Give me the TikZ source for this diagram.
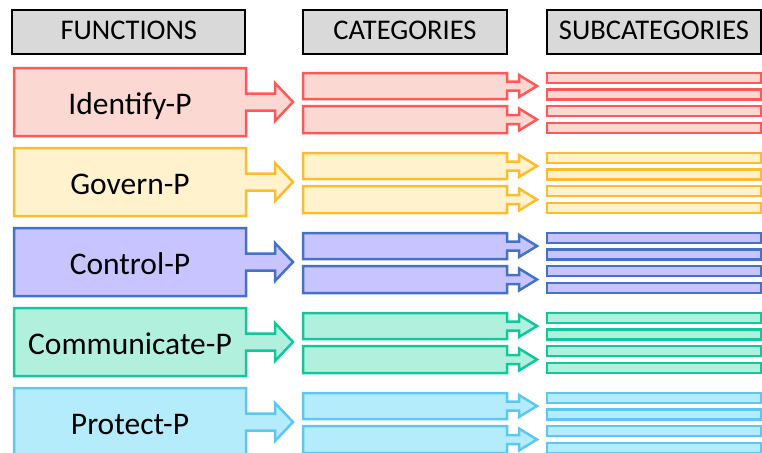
\documentclass[tikz,border=0pt]{standalone}
\usepackage{fontspec}
\setmainfont{Carlito}
\definecolor{hdrfill}{RGB}{217,217,217}
\definecolor{rS}{RGB}{255,88,88}\definecolor{rF}{RGB}{252,216,211}
\definecolor{yS}{RGB}{251,188,45}\definecolor{yF}{RGB}{255,242,204}
\definecolor{bS}{RGB}{68,114,196}\definecolor{bF}{RGB}{200,196,255}
\definecolor{gS}{RGB}{16,200,155}\definecolor{gF}{RGB}{178,240,222}
\definecolor{cS}{RGB}{92,200,240}\definecolor{cF}{RGB}{180,236,251}
% #1 style, #2 left, #3 top, #4 right, #5 bottom, #6 shaft end, #7 shaft half, #8 head half, #9 tip
\newcommand\ArrBox[9]{\path[#1] (#2,#3) -- (#4,#3) -- (#4,{(#3+#5)/2-#7}) -- (#6,{(#3+#5)/2-#7}) -- (#6,{(#3+#5)/2-#8}) -- (#9,{(#3+#5)/2}) -- (#6,{(#3+#5)/2+#8}) -- (#6,{(#3+#5)/2+#7}) -- (#4,{(#3+#5)/2+#7}) -- (#4,#5) -- (#2,#5) -- cycle;}
\tikzset{
  hdr/.style={draw=black, line width=2pt, fill=hdrfill, minimum height=44pt, inner sep=0pt,
    text height=18.4pt, text depth=3pt, font=\fontsize{28.5}{32}\selectfont},
  shp/.style={draw=#1S, fill=#1F, line width=2.5pt, line join=miter},
  lbl/.style={font=\fontsize{31.5}{36}\selectfont, inner sep=0pt, anchor=base}
}
\begin{document}
\begin{tikzpicture}[x=1pt,y=-1pt]
\useasboundingbox (0,0) rectangle (762,452);
\clip (0,0) rectangle (762,452);
\node[hdr, minimum width=233pt] (hfun) at (128.8,32) {FUNCTIONS};
\node[hdr, minimum width=204pt] (hcat) at (405,32) {CATEGORIES};
\node[hdr, minimum width=214pt] (hsub) at (654,32) {SUBCATEGORIES};
\foreach \c/\lab [count=\i from 0] in {r/Identify-P, y/Govern-P, b/Control-P, g/Communicate-P, c/Protect-P}{
  \pgfmathsetmacro\T{68+80*\i}
  \ArrBox{shp=\c}{14}{\T}{246}{\T+68}{275}{8.5}{19}{293}
  \node[lbl] (f\i) at (130,\T+46) {\lab};
  \ArrBox{shp=\c}{303}{\T+5}{507}{\T+31}{519}{4.5}{11}{537}
  \ArrBox{shp=\c}{303}{\T+38}{507}{\T+65}{519}{4.5}{11}{537}
  \foreach \o in {5,21.5,38,55}{
    \path[shp=\c] (547,\T+\o) rectangle (761,\T+\o+10);
  }
}
\end{tikzpicture}
\end{document}
